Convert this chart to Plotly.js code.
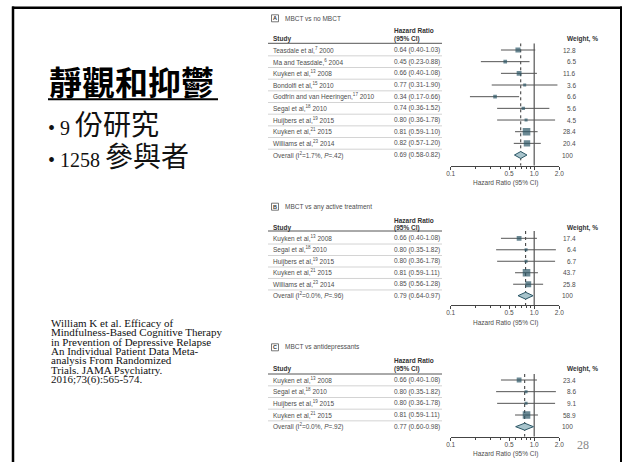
<!DOCTYPE html>
<html>
<head>
<meta charset="utf-8">
<script src="https://cdn.plot.ly/plotly-3.0.1.min.js"></script>
<style>
  html, body { margin: 0; padding: 0; background: #fff; }
  #chart { width: 622px; height: 462px; }
</style>
</head>
<body>
<div id="chart"></div>
<script>
// ---- Panel A: MBCT vs no MBCT ----
const studiesA = ['Teasdale et al,<sup>7</sup> 2000', 'Ma and Teasdale,<sup>6</sup> 2004', 'Kuyken et al,<sup>13</sup> 2008',
  'Bondolfi et al,<sup>15</sup> 2010', 'Godfrin and van Heeringen,<sup>17</sup> 2010', 'Segal et al,<sup>18</sup> 2010',
  'Huijbers et al,<sup>19</sup> 2015', 'Kuyken et al,<sup>21</sup> 2015', 'Williams et al,<sup>23</sup> 2014'];
const hrA = [0.64, 0.45, 0.66, 0.77, 0.34, 0.74, 0.80, 0.81, 0.82];
const loA = [0.40, 0.23, 0.40, 0.31, 0.17, 0.36, 0.36, 0.59, 0.57];
const hiA = [1.03, 0.88, 1.08, 1.90, 0.66, 1.52, 1.78, 1.10, 1.20];
const weightA = [12.8, 6.5, 11.6, 3.6, 6.6, 5.6, 4.5, 28.4, 20.4];
const overallA = [0.69, 0.58, 0.82];
const overallLabelA = 'Overall (I<sup>2</sup>=1.7%, <i>P</i>=.42)';

// ---- Panel B: MBCT vs any active treatment ----
const studiesB = ['Kuyken et al,<sup>13</sup> 2008', 'Segal et al,<sup>18</sup> 2010', 'Huijbers et al,<sup>19</sup> 2015',
  'Kuyken et al,<sup>21</sup> 2015', 'Williams et al,<sup>23</sup> 2014'];
const hrB = [0.66, 0.80, 0.80, 0.81, 0.85];
const loB = [0.40, 0.35, 0.36, 0.59, 0.56];
const hiB = [1.08, 1.82, 1.78, 1.11, 1.28];
const weightB = [17.4, 6.4, 6.7, 43.7, 25.8];
const overallB = [0.79, 0.64, 0.97];
const overallLabelB = 'Overall (I<sup>2</sup>=0.0%, <i>P</i>=.96)';

// ---- Panel C: MBCT vs antidepressants ----
const studiesC = ['Kuyken et al,<sup>13</sup> 2008', 'Segal et al,<sup>18</sup> 2010', 'Huijbers et al,<sup>19</sup> 2015',
  'Kuyken et al,<sup>21</sup> 2015'];
const hrC = [0.66, 0.80, 0.80, 0.81];
const loC = [0.40, 0.35, 0.36, 0.59];
const hiC = [1.08, 1.82, 1.78, 1.11];
const weightC = [23.4, 8.6, 9.1, 58.9];
const overallC = [0.77, 0.60, 0.98];
const overallLabelC = 'Overall (I<sup>2</sup>=0.0%, <i>P</i>=.92)';

const overallWeight = 100;

// shared hazard-ratio axis
const tickVals = [0.1, 0.5, 1, 2];
const tickText = ['0.1', '0.5', '1.0', '2.0'];
const minorVals = [0.2, 0.3, 0.4, 0.6, 0.7, 0.8, 0.9];

// slide text
const slideTitle = '靜觀和抑鬱';
const bullets = [['9', '份研究'], ['1258', '參與者']];
const citation = ['William K et al. Efficacy of', 'Mindfulness-Based Cognitive Therapy', 'in Prevention of Depressive Relapse',
  'An Individual Patient Data Meta-', 'analysis From Randomized', 'Trials. JAMA Psychiatry.', '2016;73(6):565-574.'];
const pageNumber = '28';

const W = 622, H = 462;
const P = x => x / W;          // pixel -> paper x
const Q = y => 1 - y / H;      // pixel -> paper y

const FF = 'Liberation Sans, Arial, sans-serif';
const FS = 6.5;
const TXT = '#4d4d4d', HEAD = '#333', SQ = '#2c5766';

const traces = [], annotations = [], shapes = [];
const layout = {
  width: W, height: H, margin: {l: 0, r: 0, t: 0, b: 0},
  paper_bgcolor: '#fff', plot_bgcolor: 'rgba(0,0,0,0)',
  showlegend: false, hovermode: false,
  annotations, shapes
};

const panels = [
  {letter: 'A', title: 'MBCT vs no MBCT', studies: studiesA, hr: hrA, lo: loA, hi: hiA, w: weightA, ov: overallA, ovLabel: overallLabelA,
   row0: 50, step: 11.67, under: 43.3, axis: 165.7, hrHead: 30.7, head: 39.3, label: 18.3, xtitle: 182.7},
  {letter: 'B', title: 'MBCT vs any active treatment', studies: studiesB, hr: hrB, lo: loB, hi: hiB, w: weightB, ov: overallB, ovLabel: overallLabelB,
   row0: 238.3, step: 11.48, under: 231, axis: 305, hrHead: 220, head: 227.7, label: 206.7, xtitle: 323.3},
  {letter: 'C', title: 'MBCT vs antidepressants', studies: studiesC, hr: hrC, lo: loC, hi: hiC, w: weightC, ov: overallC, ovLabel: overallLabelC,
   row0: 380, step: 11.67, under: 374, axis: 436.7, hrHead: 360.7, head: 369, label: 347.3, xtitle: 453.5}
];

const ciText = (h, l, u) => h.toFixed(2) + ' (' + l.toFixed(2) + '-' + u.toFixed(2) + ')';

panels.forEach((p, k) => {
  const sfx = k === 0 ? '' : String(k + 1);
  const xa = 'x' + sfx, ya = 'y' + sfx;
  const n = p.hr.length;
  const yBottom = (p.axis - p.row0) / p.step;
  const yTop = (p.under - p.row0) / p.step;

  layout['xaxis' + sfx] = {
    type: 'log', range: [Math.log10(0.1), Math.log10(2)],
    domain: [P(450.7), P(559.3)], anchor: ya,
    showgrid: false, zeroline: false, showline: true, linecolor: '#444', linewidth: 1,
    tickmode: 'array', tickvals: tickVals, ticktext: tickText,
    ticks: 'outside', ticklen: 3, tickwidth: 1, tickcolor: '#444', ticklabelstandoff: -2,
    minor: {tickmode: 'array', tickvals: minorVals, ticks: 'outside', ticklen: 2, tickcolor: '#444', tickwidth: 1, showgrid: false},
    tickfont: {family: FF, size: FS, color: TXT}, fixedrange: true
  };
  layout['yaxis' + sfx] = {
    range: [yBottom, yTop], domain: [Q(p.axis), Q(p.under)], anchor: xa,
    visible: false, fixedrange: true
  };

  // line of no effect and pooled estimate
  traces.push({x: [1, 1], y: [yTop, yBottom], xaxis: xa, yaxis: ya, mode: 'lines',
    line: {color: '#333', width: 1}, hoverinfo: 'skip'});
  traces.push({x: [p.ov[0], p.ov[0]], y: [yTop, yBottom], xaxis: xa, yaxis: ya, mode: 'lines',
    line: {color: '#333', width: 1, dash: 'dot'}, hoverinfo: 'skip'});

  // confidence intervals
  const cx = [], cy = [];
  p.hr.forEach((_, i) => { cx.push(p.lo[i], p.hi[i], null); cy.push(i, i, null); });
  traces.push({x: cx, y: cy, xaxis: xa, yaxis: ya, mode: 'lines', line: {color: '#555', width: 1}, hoverinfo: 'skip'});

  // study estimates, square area scaled by weight
  const wmax = Math.max(...p.w);
  traces.push({x: p.hr, y: p.hr.map((_, i) => i), xaxis: xa, yaxis: ya, mode: 'markers',
    marker: {symbol: 'square', color: SQ, size: p.w.map(w => Math.max(3, 7.6 * Math.sqrt(w / wmax))), line: {width: 0}},
    hoverinfo: 'skip'});

  // pooled diamond
  const dh = 0.3;
  traces.push({x: [p.ov[1], p.ov[0], p.ov[2], p.ov[0], p.ov[1]], y: [n, n - dh, n, n + dh, n],
    xaxis: xa, yaxis: ya, mode: 'lines', fill: 'toself', fillcolor: '#a8c4cc',
    line: {color: SQ, width: 1}, hoverinfo: 'skip'});

  // panel label and title
  shapes.push({type: 'rect', xref: 'paper', yref: 'paper', x0: P(271.5), x1: P(278.5), y0: Q(p.label + 3.5), y1: Q(p.label - 3.5),
    line: {color: '#555', width: 0.8}});
  annotations.push({xref: 'paper', yref: 'paper', x: P(275), y: Q(p.label), text: '<b>' + p.letter + '</b>', showarrow: false,
    xanchor: 'center', yanchor: 'middle', font: {family: FF, size: 5.5, color: HEAD}});
  annotations.push({xref: 'paper', yref: 'paper', x: P(283), y: Q(p.label), text: p.title, showarrow: false,
    xanchor: 'left', yanchor: 'middle', font: {family: FF, size: FS, color: TXT}});

  // column headers
  const hdr = (x, y, t, anchor) => annotations.push({xref: 'paper', yref: 'paper', x: P(x), y: Q(y), text: '<b>' + t + '</b>',
    showarrow: false, xanchor: anchor || 'left', yanchor: 'middle', font: {family: FF, size: FS, color: HEAD}});
  hdr(391.5, p.hrHead, 'Hazard Ratio');
  hdr(391.5, p.head, '(95% CI)');
  hdr(271, p.head, 'Study');
  hdr(565, p.head, 'Weight, %');
  shapes.push({type: 'line', xref: 'paper', yref: 'paper', x0: P(268), x1: P(442), y0: Q(p.under), y1: Q(p.under),
    line: {color: '#555', width: 1}});

  // table rows
  const cell = (x, i, t, anchor) => annotations.push({xref: 'paper', yref: ya, x: P(x), y: i, text: t, showarrow: false,
    xanchor: anchor, yanchor: 'middle', font: {family: FF, size: FS, color: TXT}});
  p.studies.forEach((s, i) => {
    cell(271, i, s, 'left');
    cell(391.5, i, ciText(p.hr[i], p.lo[i], p.hi[i]), 'left');
    cell(578, i, p.w[i].toFixed(1), 'right');
    shapes.push({type: 'line', xref: 'paper', yref: ya, x0: P(268), x1: P(442), y0: i + 0.5, y1: i + 0.5,
      line: {color: '#c8c8c8', width: 0.8}});
  });
  cell(271, n, p.ovLabel, 'left');
  cell(391.5, n, ciText(p.ov[0], p.ov[1], p.ov[2]), 'left');
  cell(575, n, String(overallWeight), 'right');

  // axis title
  annotations.push({xref: 'paper', yref: 'paper', x: P(505), y: Q(p.xtitle), text: 'Hazard Ratio (95% CI)', showarrow: false,
    xanchor: 'center', yanchor: 'middle', font: {family: FF, size: FS, color: TXT}});
});

// slide frame
shapes.push({type: 'line', xref: 'paper', yref: 'paper', x0: P(12), x1: P(622), y0: Q(7.8), y1: Q(7.8), line: {color: '#000', width: 2.5}});
shapes.push({type: 'line', xref: 'paper', yref: 'paper', x0: P(13), x1: P(13), y0: Q(6.6), y1: Q(462), line: {color: '#000', width: 2.5}});
shapes.push({type: 'line', xref: 'paper', yref: 'paper', x0: P(621), x1: P(621), y0: Q(6.6), y1: Q(462), line: {color: '#000', width: 2}});

// slide title with underline
annotations.push({xref: 'paper', yref: 'paper', x: P(47), y: Q(81), text: '<b>' + slideTitle + '</b>', showarrow: false,
  xanchor: 'left', yanchor: 'middle', font: {family: 'Noto Sans CJK TC, Noto Sans CJK SC, sans-serif', size: 33, color: '#000'}});
shapes.push({type: 'line', xref: 'paper', yref: 'paper', x0: P(48), x1: P(218), y0: Q(99.3), y1: Q(99.3), line: {color: '#000', width: 2}});

// bullet points
bullets.forEach((b, i) => {
  annotations.push({xref: 'paper', yref: 'paper', x: P(46), y: Q(123 + 32 * i),
    text: '• ' + b[0] + ' <span style="font-family:Noto Sans CJK TC;font-size:28px">' + b[1] + '</span>',
    showarrow: false, xanchor: 'left', yanchor: 'middle',
    font: {family: 'Liberation Serif, Times New Roman, serif', size: 20, color: '#111'}});
});

// reference
citation.forEach((line, i) => {
  annotations.push({xref: 'paper', yref: 'paper', x: P(48.5), y: Q(322.6 + 9.45 * i), text: line, showarrow: false,
    xanchor: 'left', yanchor: 'middle', font: {family: 'Liberation Serif, Times New Roman, serif', size: 11, color: '#111'}});
});

// slide number
annotations.push({xref: 'paper', yref: 'paper', x: P(575), y: Q(444.5), text: pageNumber, showarrow: false,
  xanchor: 'left', yanchor: 'middle', font: {family: 'Liberation Serif, Times New Roman, serif', size: 12, color: '#888'}});

Plotly.newPlot('chart', traces, layout, {displayModeBar: false, staticPlot: true});
</script>
</body>
</html>
